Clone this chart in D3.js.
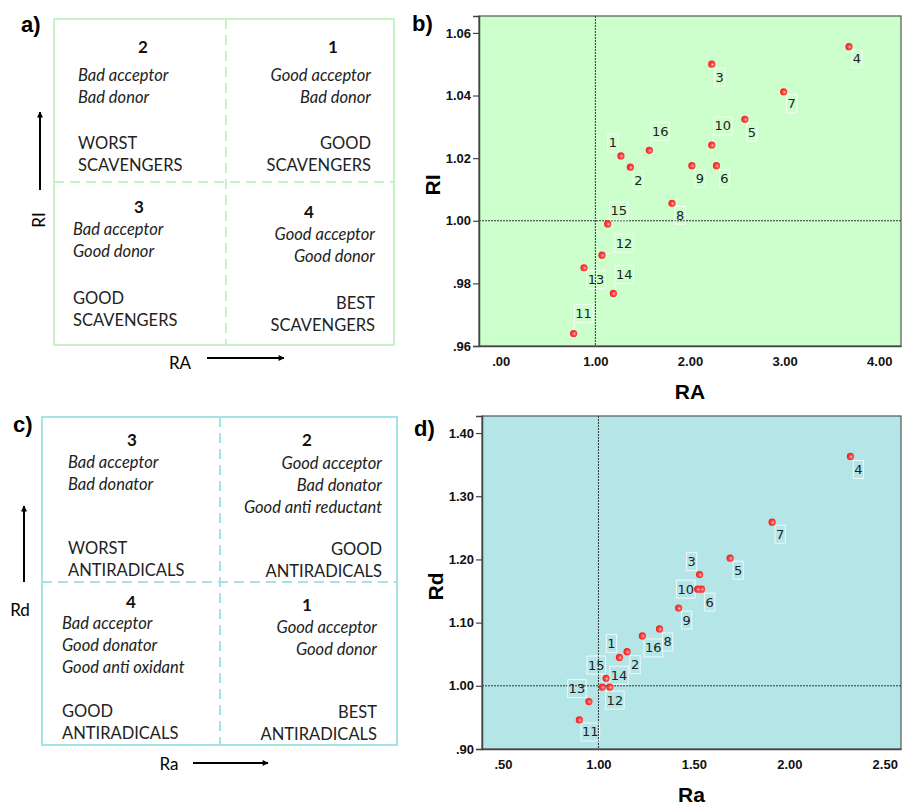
<!DOCTYPE html>
<html>
<head>
<meta charset="utf-8">
<script src="https://cdn.jsdelivr.net/npm/d3@7"></script>
<style>
  body { margin: 0; background: #fff; }
  svg { display: block; }
</style>
</head>
<body>
<svg id="chart" width="904" height="804"></svg>
<script>
// ---------- data ----------
var compounds = ["1","2","3","4","5","6","7","8","9","10","11","12","13","14","15","16"];

// panel b: RA vs RI
var raB = [1.27, 1.37, 2.23, 3.68, 2.58, 2.28, 2.99, 1.81, 2.02, 2.23, 0.77, 1.07, 0.88, 1.19, 1.13, 1.57];
var riB = [1.0207, 1.0171, 1.0500, 1.0556, 1.0324, 1.0176, 1.0412, 1.0056, 1.0176, 1.0242, 0.9640, 0.9890, 0.9850, 0.9768, 0.9990, 1.0225];

// panel d: Ra vs Rd
var raD = [1.11, 1.15, 1.53, 2.32, 1.69, 1.54, 1.91, 1.32, 1.42, 1.52, 0.90, 1.06, 0.95, 1.04, 1.02, 1.23];
var rdD = [1.045, 1.054, 1.176, 1.363, 1.202, 1.153, 1.259, 1.090, 1.123, 1.153, 0.946, 0.998, 0.975, 1.012, 0.998, 1.079];

var ticksB_x = [0, 1, 2, 3, 4];
var ticksB_y = [0.96, 0.98, 1.00, 1.02, 1.04, 1.06];
var ticksD_x = [0.5, 1.0, 1.5, 2.0, 2.5];
var ticksD_y = [0.90, 1.00, 1.10, 1.20, 1.30, 1.40];

// label placement (offset of label centre from marker, px)
var labelOffB = [[-8,-13],[8,13],[8,13],[8,12],[7,13],[8,13],[8,12],[8,12],[8,13],[11,-19],[10,-20],[22,-12],[12,12],[11,-19],[11,-13],[11,-19]];
var labelOffD = [[-8,-14],[8,13],[-8,-13],[8,13],[8,12],[8,13],[8,12],[8,13],[8,12],[-12,0],[11,12],[5,13],[-12,-13],[13,-3],[-6,-22],[11,12]];

// schematic quadrants
var quadA = [
  {num: "2", side: "left", lines: ["Bad acceptor", "Bad donor"], verdict: ["WORST", "SCAVENGERS"]},
  {num: "1", side: "right", lines: ["Good acceptor", "Bad donor"], verdict: ["GOOD", "SCAVENGERS"]},
  {num: "3", side: "left", lines: ["Bad acceptor", "Good donor"], verdict: ["GOOD", "SCAVENGERS"]},
  {num: "4", side: "right", lines: ["Good acceptor", "Good donor"], verdict: ["BEST", "SCAVENGERS"]}
];
var quadC = [
  {num: "3", side: "left", lines: ["Bad acceptor", "Bad donator"], verdict: ["WORST", "ANTIRADICALS"]},
  {num: "2", side: "right", lines: ["Good acceptor", "Bad donator", "Good anti reductant"], verdict: ["GOOD", "ANTIRADICALS"]},
  {num: "4", side: "left", lines: ["Bad acceptor", "Good donator", "Good anti oxidant"], verdict: ["GOOD", "ANTIRADICALS"]},
  {num: "1", side: "right", lines: ["Good acceptor", "Good donor"], verdict: ["BEST", "ANTIRADICALS"]}
];

var svg = d3.select("#chart");

var defs = svg.append("defs");
defs.append("marker")
    .attr("id", "arrow")
    .attr("viewBox", "0 0 10 10")
    .attr("refX", 9).attr("refY", 5)
    .attr("markerWidth", 9).attr("markerHeight", 6)
    .attr("markerUnits", "userSpaceOnUse")
    .attr("orient", "auto")
    .append("path")
    .attr("d", "M0,0 L10,5 L0,10 z")
    .attr("fill", "#000");

var grad = defs.append("radialGradient")
    .attr("id", "dot")
    .attr("cx", "60%").attr("cy", "55%").attr("r", "60%");
grad.append("stop").attr("offset", "0%").attr("stop-color", "#ffd0d0");
grad.append("stop").attr("offset", "35%").attr("stop-color", "#ff5050");
grad.append("stop").attr("offset", "100%").attr("stop-color", "#f01818");

var humanist = "'Lato', 'Open Sans', sans-serif";
var arial = "'Liberation Sans', Arial, sans-serif";

// ---------- schematic panels ----------
function drawQuadrant(cfg) {
    var g = svg.append("g");
    var x0 = cfg.box[0], y0 = cfg.box[1], x1 = cfg.box[2], y1 = cfg.box[3];

    g.append("rect")
        .attr("x", x0).attr("y", y0)
        .attr("width", x1 - x0).attr("height", y1 - y0)
        .attr("fill", "none")
        .attr("stroke", cfg.color)
        .attr("stroke-width", 2);

    g.append("line")
        .attr("x1", cfg.midX).attr("x2", cfg.midX)
        .attr("y1", y0).attr("y2", y1)
        .attr("stroke", cfg.color).attr("stroke-width", 2)
        .attr("stroke-dasharray", "10,6");
    g.append("line")
        .attr("x1", x0).attr("x2", x1)
        .attr("y1", cfg.midY).attr("y2", cfg.midY)
        .attr("stroke", cfg.color).attr("stroke-width", 2)
        .attr("stroke-dasharray", "10,6");

    cfg.quads.forEach(function (q, i) {
        var pos = cfg.pos[i];
        var anchor = q.side === "left" ? "start" : "end";

        g.append("text")
            .attr("x", pos.numX).attr("y", pos.numY)
            .attr("text-anchor", "middle")
            .attr("dominant-baseline", "central")
            .attr("font-family", humanist)
            .attr("font-weight", "bold")
            .attr("font-size", 17)
            .attr("fill", "#111")
            .text(q.num);

        q.lines.forEach(function (l, j) {
            g.append("text")
                .attr("x", pos.textX).attr("y", pos.lineY + j * 22)
                .attr("text-anchor", anchor)
                .attr("dominant-baseline", "central")
                .attr("font-family", humanist)
                .attr("font-style", "italic")
                .attr("font-size", 16.5)
                .attr("fill", "#222")
                .text(l);
        });
        q.verdict.forEach(function (l, j) {
            g.append("text")
                .attr("x", pos.textX).attr("y", pos.verdictY + j * 21.5)
                .attr("text-anchor", anchor)
                .attr("dominant-baseline", "central")
                .attr("font-family", humanist)
                .attr("font-size", 16.5)
                .attr("fill", "#222")
                .text(l);
        });
    });

    // axis arrows + names
    g.append("line")
        .attr("x1", cfg.xArrow[0]).attr("x2", cfg.xArrow[1])
        .attr("y1", cfg.xArrow[2]).attr("y2", cfg.xArrow[2])
        .attr("stroke", "#000").attr("stroke-width", 2)
        .attr("marker-end", "url(#arrow)");
    g.append("text")
        .attr("x", cfg.xName[0]).attr("y", cfg.xName[1])
        .attr("text-anchor", "middle")
        .attr("dominant-baseline", "central")
        .attr("font-family", humanist)
        .attr("font-size", 17)
        .text(cfg.xName[2]);

    g.append("line")
        .attr("x1", cfg.yArrow[0]).attr("x2", cfg.yArrow[0])
        .attr("y1", cfg.yArrow[1]).attr("y2", cfg.yArrow[2])
        .attr("stroke", "#000").attr("stroke-width", 2)
        .attr("marker-end", "url(#arrow)");
    var yt = g.append("text")
        .attr("text-anchor", "middle")
        .attr("dominant-baseline", "central")
        .attr("font-family", humanist)
        .attr("font-size", 17)
        .text(cfg.yName[2]);
    if (cfg.yName[3]) {
        yt.attr("transform", "translate(" + cfg.yName[0] + "," + cfg.yName[1] + ") rotate(-90)");
    } else {
        yt.attr("x", cfg.yName[0]).attr("y", cfg.yName[1]);
    }

    svg.append("text")
        .attr("x", cfg.tag[0]).attr("y", cfg.tag[1])
        .attr("font-family", arial)
        .attr("font-weight", "bold")
        .attr("font-size", 22)
        .text(cfg.tag[2]);
}

drawQuadrant({
    quads: quadA,
    box: [54, 19, 394, 345], midX: 226, midY: 182,
    color: "#c6f2c6",
    pos: [
        {numX: 143, numY: 46, textX: 78, lineY: 75, verdictY: 143},
        {numX: 333, numY: 46, textX: 371, lineY: 75, verdictY: 143},
        {numX: 139, numY: 206, textX: 73, lineY: 229, verdictY: 298},
        {numX: 309, numY: 211, textX: 375, lineY: 234, verdictY: 303}
    ],
    xArrow: [207, 284, 358], xName: [180, 362, "RA"],
    yArrow: [40, 190, 112], yName: [38, 220, "RI", true],
    tag: [21, 32, "a)"]
});

drawQuadrant({
    quads: quadC,
    box: [42, 417, 397, 745], midX: 220, midY: 582,
    color: "#a6e3e6",
    pos: [
        {numX: 132, numY: 439, textX: 68, lineY: 462, verdictY: 548},
        {numX: 307, numY: 439, textX: 382, lineY: 463, verdictY: 549},
        {numX: 131, numY: 601, textX: 62, lineY: 623, verdictY: 711},
        {numX: 307, numY: 604, textX: 377, lineY: 627, verdictY: 712}
    ],
    xArrow: [193, 268, 763], xName: [169, 763, "Ra"],
    yArrow: [24, 582, 506], yName: [20, 609, "Rd", false],
    tag: [13, 432, "c)"]
});

// ---------- scatter panels ----------
function drawScatter(cfg) {
    var g = svg.append("g");
    var x = d3.scaleLinear().domain(cfg.xDomain).range([cfg.left, cfg.right]);
    var y = d3.scaleLinear().domain(cfg.yDomain).range([cfg.bottom, cfg.top]);

    g.append("rect")
        .attr("x", cfg.left).attr("y", cfg.top)
        .attr("width", cfg.right - cfg.left)
        .attr("height", cfg.bottom - cfg.top)
        .attr("fill", cfg.bg)
        .attr("stroke", "#555")
        .attr("stroke-width", 1.2);

    // reference lines at 1.0
    g.append("line")
        .attr("x1", x(1)).attr("x2", x(1))
        .attr("y1", cfg.top).attr("y2", cfg.bottom)
        .attr("stroke", "#333").attr("stroke-width", 1)
        .attr("stroke-dasharray", "2,1");
    g.append("line")
        .attr("x1", cfg.left).attr("x2", cfg.right)
        .attr("y1", y(1)).attr("y2", y(1))
        .attr("stroke", "#333").attr("stroke-width", 1)
        .attr("stroke-dasharray", "2,1");

    var fmt = function (d) {
        var s = d3.format(".2f")(d);
        return s.replace(/^0\./, ".");
    };

    var yAxis = g.append("g")
        .attr("transform", "translate(" + cfg.left + ",0)")
        .call(d3.axisLeft(y).tickValues(cfg.yTicks).tickFormat(fmt).tickSize(6).tickPadding(2));
    yAxis.select(".domain").attr("stroke", "#444").attr("stroke-width", 1.5);
    yAxis.selectAll(".tick line").attr("stroke", "#444").attr("stroke-width", 1.2);
    yAxis.selectAll("text")
        .attr("font-family", arial)
        .attr("font-weight", "bold")
        .attr("font-size", 13)
        .attr("fill", "#111");

    var xAxis = g.append("g")
        .attr("transform", "translate(0," + cfg.bottom + ")")
        .call(d3.axisBottom(x).tickValues(cfg.xTicks).tickFormat(fmt).tickSize(0).tickPadding(11));
    xAxis.select(".domain").attr("stroke", "#444").attr("stroke-width", 1.5);
    xAxis.selectAll("text")
        .attr("font-family", arial)
        .attr("font-weight", "bold")
        .attr("font-size", 13)
        .attr("fill", "#111");

    // axis titles
    svg.append("text")
        .attr("x", (cfg.left + cfg.right) / 2)
        .attr("y", cfg.bottom + 45)
        .attr("text-anchor", "middle")
        .attr("dominant-baseline", "central")
        .attr("font-family", arial)
        .attr("font-weight", "bold")
        .attr("font-size", 21)
        .text(cfg.xTitle);
    svg.append("text")
        .attr("transform", "translate(" + (cfg.left - 47) + "," + ((cfg.top + cfg.bottom) / 2 + 4) + ") rotate(-90)")
        .attr("text-anchor", "middle")
        .attr("dominant-baseline", "central")
        .attr("font-family", arial)
        .attr("font-weight", "bold")
        .attr("font-size", 21)
        .text(cfg.yTitle);

    var pts = compounds.map(function (c, i) {
        return {id: c, xv: cfg.xs[i], yv: cfg.ys[i], off: cfg.offs[i]};
    });

    // labels with boxes and leader lines
    var lab = g.selectAll(".lab")
        .data(pts)
        .enter()
        .append("g")
        .attr("class", "lab");

    lab.each(function (d) {
        var sel = d3.select(this);
        var cx = x(d.xv) + d.off[0];
        var cy = y(d.yv) + d.off[1];
        var t = sel.append("text")
            .attr("x", cx).attr("y", cy)
            .attr("text-anchor", "middle")
            .attr("dominant-baseline", "central")
            .attr("font-family", "'DejaVu Sans', Verdana, sans-serif")
            .attr("font-size", 13)
            .attr("fill", "#222")
            .text(d.id);
        var bb = t.node().getBBox();
        var bx = cx - bb.width / 2 - 1, by = cy - 9, bw = bb.width + 2, bh = 18;
        sel.insert("rect", "text")
            .attr("x", bx).attr("y", by)
            .attr("width", bw).attr("height", bh)
            .attr("fill", "none")
            .attr("stroke", "#ffffff")
            .attr("stroke-opacity", 0.75)
            .attr("stroke-width", 1);
        var dist = Math.sqrt(d.off[0] * d.off[0] + d.off[1] * d.off[1]);
        if (dist > 21) {
            var px = x(d.xv), py = y(d.yv);
            var qx = Math.max(bx, Math.min(px, bx + bw));
            var qy = Math.max(by, Math.min(py, by + bh));
            sel.insert("line", "rect")
                .attr("x1", px).attr("y1", py)
                .attr("x2", qx).attr("y2", qy)
                .attr("stroke", "#ffffff")
                .attr("stroke-opacity", 0.8)
                .attr("stroke-width", 1);
        }
    });

    g.selectAll(".dot")
        .data(pts)
        .enter()
        .append("circle")
        .attr("class", "dot")
        .attr("cx", function (d) { return x(d.xv); })
        .attr("cy", function (d) { return y(d.yv); })
        .attr("r", 3.6)
        .attr("fill", "url(#dot)");

    svg.append("text")
        .attr("x", cfg.tag[0]).attr("y", cfg.tag[1])
        .attr("font-family", arial)
        .attr("font-weight", "bold")
        .attr("font-size", 22)
        .text(cfg.tag[2]);
}

drawScatter({
    left: 479, right: 901, top: 16, bottom: 346,
    xDomain: [-0.23, 4.23], yDomain: [0.96, 1.0654],
    xTicks: ticksB_x, yTicks: ticksB_y,
    xs: raB, ys: riB, offs: labelOffB,
    bg: "#ccffcc",
    xTitle: "RA", yTitle: "RI",
    tag: [412, 31, "b)"]
});

drawScatter({
    left: 482, right: 901, top: 416, bottom: 749,
    xDomain: [0.39, 2.585], yDomain: [0.90, 1.427],
    xTicks: ticksD_x, yTicks: ticksD_y,
    xs: raD, ys: rdD, offs: labelOffD,
    bg: "#b4e6e8",
    xTitle: "Ra", yTitle: "Rd",
    tag: [414, 436, "d)"]
});
</script>
</body>
</html>
